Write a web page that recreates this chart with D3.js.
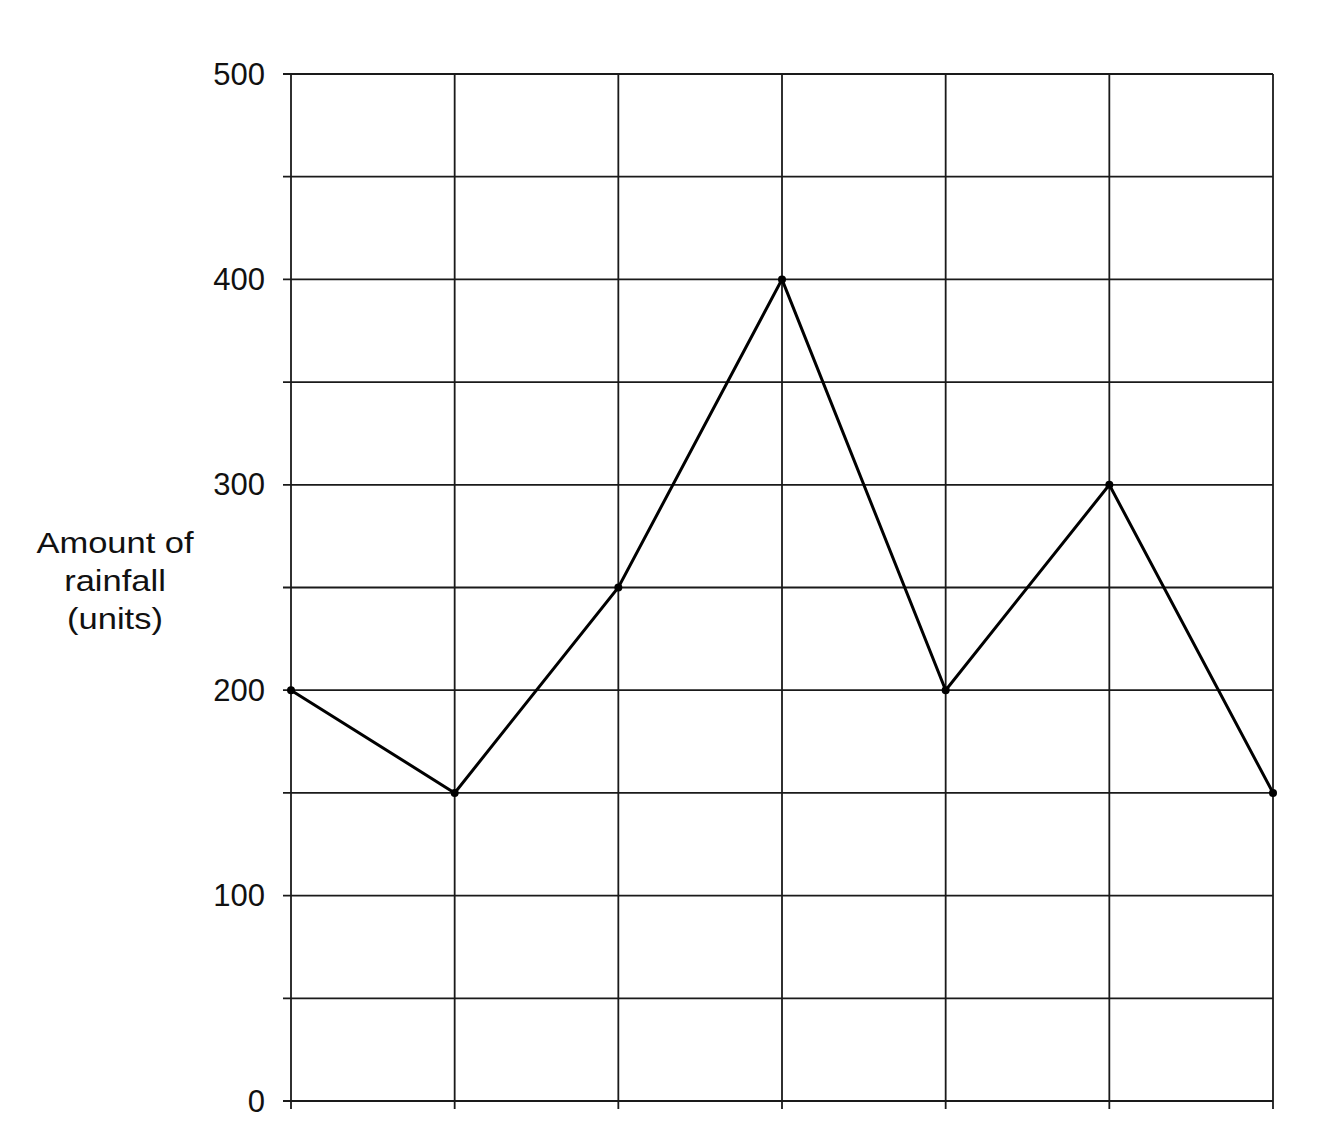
<!DOCTYPE html>
<html>
<head>
<meta charset="utf-8">
<script src="https://cdn.jsdelivr.net/npm/d3@7"></script>
<style>
  html, body { margin: 0; padding: 0; background: #fff; }
  svg { display: block; }
</style>
</head>
<body>
<svg id="chart" width="1319" height="1140"></svg>
<script>
// Data
const categories = ["1", "2", "3", "4", "5", "6", "7"];
const rainfall = [200, 150, 250, 400, 200, 300, 150];
const yTicks = [0, 100, 200, 300, 400, 500];
const yGrid = [0, 50, 100, 150, 200, 250, 300, 350, 400, 450, 500];
const yTitleLines = ["Amount of", "rainfall", "(units)"];

(function () {
const svg = d3.select("#chart");
const mLeft = 291, mRight = 1273, mTop = 74, mBottom = 1101;

const x = d3.scalePoint().domain(categories).range([mLeft, mRight]);
const y = d3.scaleLinear().domain([0, 500]).range([mBottom, mTop]);

const gridColor = "#1a1a1a";

// horizontal grid lines (extend a bit left of the axis as ticks)
svg.append("g").selectAll("line").data(yGrid).join("line")
  .attr("x1", mLeft - 8).attr("x2", mRight)
  .attr("y1", d => y(d)).attr("y2", d => y(d))
  .attr("stroke", gridColor).attr("stroke-width", 1.8);

// vertical grid lines (extend a bit below zero)
svg.append("g").selectAll("line").data(categories).join("line")
  .attr("x1", d => x(d)).attr("x2", d => x(d))
  .attr("y1", y(500)).attr("y2", y(0) + 8)
  .attr("stroke", gridColor).attr("stroke-width", 1.8);

// y tick labels
svg.append("g").selectAll("text").data(yTicks).join("text")
  .attr("transform", d => `translate(265,${y(d)})`)
  .attr("text-anchor", "end")
  .attr("dominant-baseline", "central")
  .attr("font-family", "Liberation Sans, Arial, sans-serif")
  .attr("font-size", 31)
  .attr("fill", "#111")
  .text(d => d);

// y axis title
const tg = svg.append("g").attr("transform", "translate(115,0) scale(1.15,1)");
tg.selectAll("text").data(yTitleLines).join("text")
  .attr("x", 0)
  .attr("y", (d, i) => 553 + i * 38)
  .attr("text-anchor", "middle")
  .attr("font-family", "Liberation Sans, Arial, sans-serif")
  .attr("font-size", 30)
  .attr("fill", "#111")
  .text(d => d);

// data line
const line = d3.line()
  .x((d, i) => x(categories[i]))
  .y(d => y(d));

svg.append("path")
  .datum(rainfall)
  .attr("d", line)
  .attr("fill", "none")
  .attr("stroke", "#000")
  .attr("stroke-width", 3)
  .attr("stroke-linejoin", "miter");

// point markers
svg.append("g").selectAll("circle").data(rainfall).join("circle")
  .attr("cx", (d, i) => x(categories[i]))
  .attr("cy", d => y(d))
  .attr("r", 4)
  .attr("fill", "#000");
})();
</script>
</body>
</html>
